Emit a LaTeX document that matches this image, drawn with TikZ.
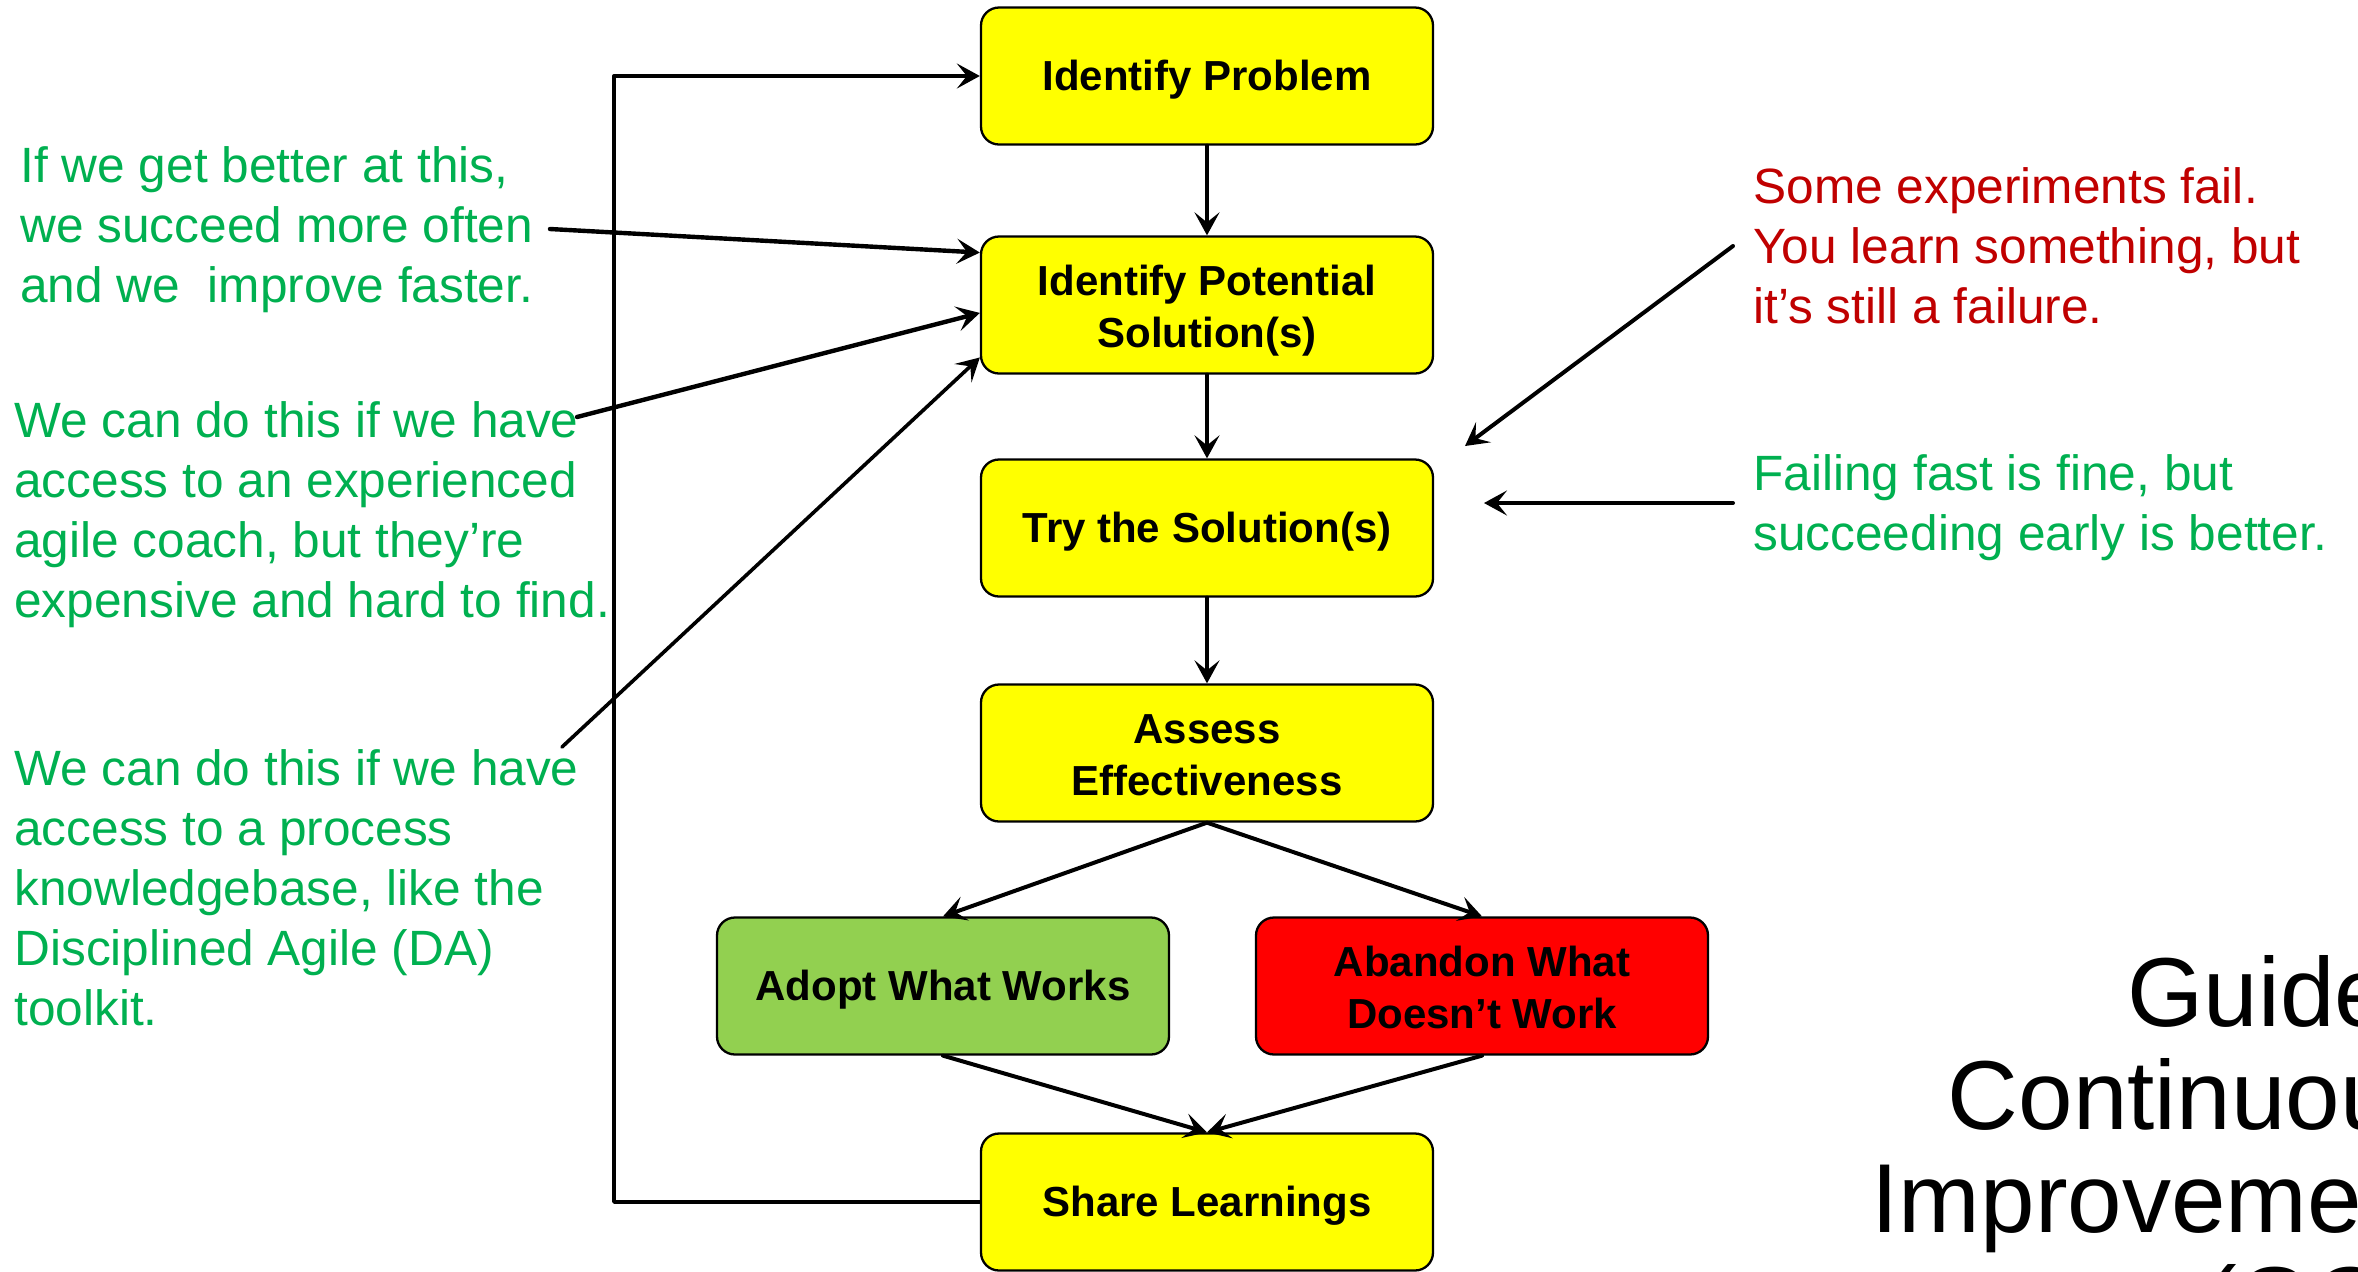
\documentclass[tikz,border=0pt]{standalone}
\usepackage{fontspec}
\setmainfont{Liberation Sans}
\usetikzlibrary{arrows.meta}
\definecolor{boxyellow}{HTML}{FFFF00}
\definecolor{boxgreen}{HTML}{92D050}
\definecolor{boxred}{HTML}{FF0000}
\definecolor{notegreen}{HTML}{00B050}
\definecolor{notered}{HTML}{C00000}
\newcommand{\boxstrut}{\rule[-4.4pt]{0pt}{23.3pt}}
\newcommand{\tallstrut}{\rule[-4.4pt]{0pt}{51.3pt}}
\begin{document}
\begin{tikzpicture}[x=0.5pt, y=-0.5pt, line join=round, line cap=round,
	>={Stealth[length=11.5pt,width=12.5pt,inset=5pt]},
	stepbox/.style={draw, line width=1.15pt, rounded corners=9pt, fill=boxyellow,
		minimum width=226pt, minimum height=68.5pt, inner sep=0pt, align=center,
		font=\fontsize{21}{26}\selectfont\bfseries,
		execute at begin node=\boxstrut, execute at end node=\boxstrut},
	twoline/.style={execute at begin node=\tallstrut},
	note/.style={anchor=north west, inner sep=0pt, align=left,
		font=\fontsize{24.8}{30}\selectfont},
	flow/.style={->, line width=2pt}]
	\useasboundingbox (0,0) rectangle (2358,1271);
	\clip (0,0) rectangle (2358,1271);

	\node[stepbox] (prob) at (1207,76) {Identify Problem};
	\node[stepbox, twoline] (sol) at (1207,305) {Identify Potential\\Solution(s)};
	\node[stepbox] (try) at (1207,528) {Try the Solution(s)};
	\node[stepbox, twoline] (assess) at (1207,753) {Assess\\Effectiveness};
	\node[stepbox, fill=boxgreen] (adopt) at (943,986) {Adopt What Works};
	\node[stepbox, twoline, fill=boxred] (abandon) at (1482,986) {Abandon What\\Doesn’t Work};
	\node[stepbox] (share) at (1207,1202) {Share Learnings};

	\draw[flow] (prob) -- (sol);
	\draw[flow] (sol) -- (try);
	\draw[flow] (try) -- (assess);
	\draw[flow] (assess.south) -- (adopt.north);
	\draw[flow] (assess.south) -- (abandon.north);
	\draw[flow] (adopt.south) -- (share.north);
	\draw[flow] (abandon.south) -- (share.north);

	\path (614,1202)coordinate(loopbottom);
	\draw[->, line width=1.7pt, line cap=butt] (share.west) -- (loopbottom) |- (prob.west);

	% notes on the left
	\node[note, text=notegreen] (better) at (20,146) {If we get better at this,\\we succeed more often\\and we~ improve faster.};
	\node[note, text=notegreen] (coach) at (14,401) {We can do this if we have\\access to an experienced\\agile coach, but they’re\\expensive and hard to find.};
	\node[note, text=notegreen] (kb) at (14,749) {We can do this if we have\\access to a process\\knowledgebase, like the\\Disciplined Agile (DA)\\toolkit.};

	\path (550,229)coordinate(betterend) (577,417)coordinate(coachend) (562,747)coordinate(kbend);
	\draw[->, line width=2.2pt] (betterend) -- (sol.167);
	\draw[->, line width=2.2pt] (coachend) -- (sol.182);
	\draw[->, line width=1.8pt] (kbend) -- (sol.193);

	% notes on the right
	\node[note, text=notered] (fail) at (1753,167) {Some experiments fail.\\You learn something, but\\it’s still a failure.};
	\node[note, text=notegreen] (fast) at (1753,454) {Failing fast is fine, but\\succeeding early is better.};

	\path (1733,246)coordinate(failstart) (1465,446)coordinate(failtip)
		(1733,503)coordinate(faststart) (1484,503)coordinate(fasttip);
	\draw[->, line width=2pt] (failstart) -- (failtip);
	\draw[->, line width=2pt] (faststart) -- (fasttip);

	\node[anchor=north east, inner sep=0pt, align=right,
		font=\fontsize{49}{51.5}\selectfont] (title) at (2444,955) {Guided\\Continuous\\Improvement\\(GCI)};
\end{tikzpicture}
\end{document}
